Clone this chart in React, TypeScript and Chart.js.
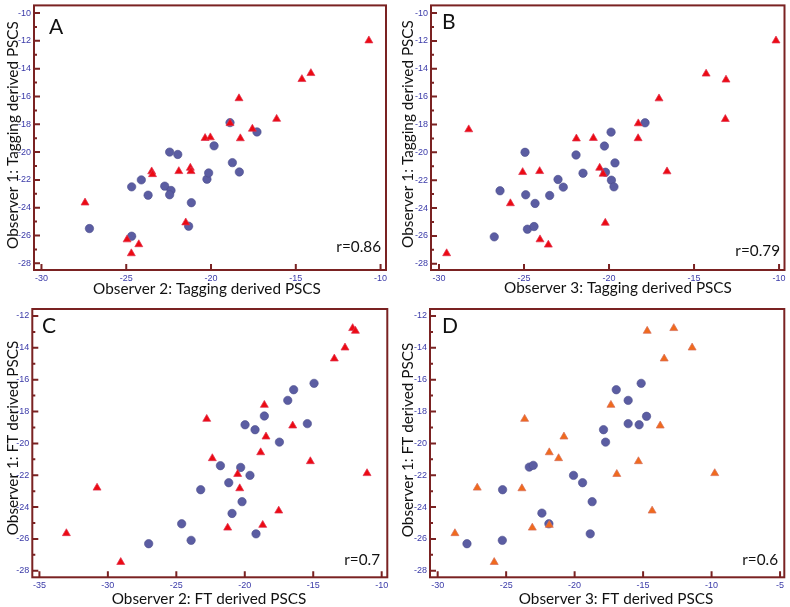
import React, { useEffect, useRef } from 'react';
import { Chart, registerables } from 'chart.js';

Chart.register(...registerables);

// ---------- Data ----------
// Panel A: Observer 2 vs Observer 1 (tagging)
const aCircleX = [-27.17, -24.68, -24.68, -24.11, -23.71, -22.73, -22.44, -22.36, -22.44, -21.96, -21.16, -21.32, -20.24, -20.14, -19.82, -18.88, -18.74, -18.33, -17.29];
const aCircleY = [-25.5, -26.05, -22.5, -22.0, -23.1, -22.45, -20.0, -22.76, -23.07, -20.17, -23.64, -25.33, -21.95, -21.5, -19.55, -17.88, -20.76, -21.43, -18.55];
const aTriX = [-27.43, -24.95, -24.7, -24.26, -23.5, -23.45, -21.9, -21.22, -21.18, -21.49, -20.35, -20.04, -18.88, -18.35, -18.27, -17.56, -16.13, -14.64, -14.11, -10.69];
const aTriY = [-23.64, -26.29, -27.29, -26.64, -21.4, -21.6, -21.38, -21.14, -21.38, -25.07, -19.0, -18.95, -17.93, -16.14, -19.02, -18.33, -17.62, -14.76, -14.33, -11.98];

// Panel B: Observer 3 vs Observer 1 (tagging)
const bCircleX = [-26.75, -26.41, -24.94, -24.9, -24.8, -24.35, -24.41, -23.49, -23.0, -22.69, -21.94, -21.53, -20.27, -20.21, -19.88, -19.86, -19.71, -19.65, -17.88];
const bCircleY = [-26.07, -22.76, -20.0, -23.05, -25.52, -23.67, -25.33, -23.1, -21.95, -22.5, -20.19, -21.5, -19.55, -21.43, -18.55, -22.0, -22.48, -20.76, -17.88];
const bTriX = [-29.55, -28.25, -25.8, -25.08, -24.08, -24.06, -23.57, -21.92, -20.92, -20.55, -20.35, -20.22, -18.28, -18.29, -17.06, -16.59, -14.29, -13.12, -13.16, -10.18];
const bTriY = [-27.26, -18.36, -23.67, -21.43, -21.36, -26.26, -26.64, -19.02, -18.98, -21.12, -21.55, -25.07, -17.93, -19.0, -16.14, -21.38, -14.36, -14.79, -17.62, -11.98];

// Panel C: Observer 2 vs Observer 1 (FT)
const cCircleX = [-27.02, -24.61, -23.92, -23.22, -21.78, -21.17, -20.93, -20.3, -20.2, -19.98, -19.62, -19.25, -19.18, -18.57, -17.47, -16.86, -16.43, -15.43, -14.94];
const cCircleY = [-26.3, -25.05, -26.09, -22.91, -21.4, -22.47, -24.4, -21.51, -23.66, -18.83, -22.01, -19.14, -25.68, -18.28, -19.92, -17.3, -16.63, -18.76, -16.23];
const cTriX = [-33.03, -30.79, -29.06, -22.78, -22.37, -21.25, -20.52, -20.37, -18.84, -18.69, -18.57, -18.45, -17.52, -16.5, -15.21, -13.46, -12.68, -12.12, -11.92, -11.07];
const cTriY = [-25.65, -22.79, -27.46, -18.47, -20.94, -25.3, -21.93, -22.83, -20.57, -25.13, -17.59, -19.58, -24.23, -18.89, -21.13, -14.68, -13.99, -12.77, -12.94, -21.88];

// Panel D: Observer 3 vs Observer 1 (FT)
const dCircleX = [-27.86, -25.26, -25.28, -23.31, -23.02, -22.39, -21.88, -20.08, -19.42, -18.72, -18.86, -17.89, -17.74, -16.96, -16.09, -16.09, -15.29, -15.14, -14.75];
const dCircleY = [-26.3, -22.91, -26.09, -21.49, -21.38, -24.38, -25.05, -22.01, -22.47, -23.66, -25.68, -19.14, -19.92, -16.63, -17.3, -18.76, -18.83, -16.23, -18.3];
const dTriX = [-28.74, -27.11, -25.87, -23.65, -23.85, -23.09, -21.85, -21.85, -21.17, -20.78, -17.35, -16.92, -15.34, -14.7, -14.34, -13.75, -13.46, -12.76, -11.42, -9.77];
const dTriY = [-25.65, -22.79, -27.46, -18.47, -22.83, -25.3, -20.57, -25.13, -20.94, -19.58, -17.59, -21.93, -21.13, -12.94, -24.23, -18.89, -14.68, -12.77, -13.99, -21.88];

// Tick values
const xTicksTagging = [-30, -25, -20, -15, -10];
const yTicksTagging = [-10, -12, -14, -16, -18, -20, -22, -24, -26, -28];
const yMinorTagging = [-11, -13, -15, -17, -19, -21, -23, -25, -27];
const xTicksC = [-35, -30, -25, -20, -15, -10];
const xTicksD = [-30, -25, -20, -15, -10, -5];
const yTicksFT = [-12, -14, -16, -18, -20, -22, -24, -26, -28];
const yMinorFT = [-13, -15, -17, -19, -21, -23, -25, -27];

// Labels
const panelLetters = ['A', 'B', 'C', 'D'];
const rLabels = ['r=0.86', 'r=0.79', 'r=0.7', 'r=0.6'];
const xTitles = ['Observer 2: Tagging derived PSCS', 'Observer 3: Tagging derived PSCS', 'Observer 2: FT derived PSCS', 'Observer 3: FT derived PSCS'];
const yTitles = ['Observer 1: Tagging derived PSCS', 'Observer 1: Tagging derived PSCS', 'Observer 1: FT derived PSCS', 'Observer 1: FT derived PSCS'];

// ---------- Styles ----------
const FRAME = '#7a2222';
const TICK_LABEL = '#3a3aa8';
const CIRCLE = '#5b5da2';
const CIRCLE_EDGE = '#4b4d8c';
const RED = '#ec0a12';
const ORANGE = '#f06a1c';
const TEXT_FONT = 'Lato, "Open Sans", sans-serif';

type Panel = {
  left: number; top: number; w: number; h: number;
  ca: { l: number; t: number; r: number; b: number };
  xMin: number; xMax: number; yMin: number; yMax: number;
  xTicks: number[]; yTicks: number[]; yMinor: number[];
  cx: number[]; cy: number[]; tx: number[]; ty: number[];
  triColor: string; triEdge: string;
  letterPos: [number, number]; rPos: [number, number];
  xTitlePos: [number, number]; yTitlePos: [number, number];
  idx: number;
};

const panels: Panel[] = [
  {
    idx: 0, left: 0, top: 0, w: 395, h: 300,
    ca: { l: 34, t: 3.3, r: 386, b: 270 },
    xMin: -30.44, xMax: -9.68, yMin: -28.48, yMax: -9.45,
    xTicks: xTicksTagging, yTicks: yTicksTagging, yMinor: yMinorTagging,
    cx: aCircleX, cy: aCircleY, tx: aTriX, ty: aTriY, triColor: RED, triEdge: 'rgba(225,50,80,0.9)',
    letterPos: [49, 34], rPos: [381, 252], xTitlePos: [207, 294], yTitlePos: [13, 135],
  },
  {
    idx: 1, left: 395, top: 0, w: 395, h: 300,
    ca: { l: 36, t: 3.3, r: 389.5, b: 270 },
    xMin: -30.47, xMax: -9.68, yMin: -28.45, yMax: -9.45,
    xTicks: xTicksTagging, yTicks: yTicksTagging, yMinor: yMinorTagging,
    cx: bCircleX, cy: bCircleY, tx: bTriX, ty: bTriY, triColor: RED, triEdge: 'rgba(225,50,80,0.9)',
    letterPos: [47, 29], rPos: [385, 256], xTitlePos: [223, 293], yTitlePos: [13, 134],
  },
  {
    idx: 2, left: 0, top: 300, w: 395, h: 307,
    ca: { l: 32.3, t: 9, r: 387.3, b: 277.3 },
    xMin: -35.52, xMax: -9.59, yMin: -28.41, yMax: -11.56,
    xTicks: xTicksC, yTicks: yTicksFT, yMinor: yMinorFT,
    cx: cCircleX, cy: cCircleY, tx: cTriX, ty: cTriY, triColor: RED, triEdge: 'rgba(225,50,80,0.9)',
    letterPos: [42, 33], rPos: [380, 265], xTitlePos: [209, 304], yTitlePos: [13, 138],
  },
  {
    idx: 3, left: 395, top: 300, w: 395, h: 307,
    ca: { l: 35, t: 9, r: 389.3, b: 277.3 },
    xMin: -30.56, xMax: -4.69, yMin: -28.41, yMax: -11.56,
    xTicks: xTicksD, yTicks: yTicksFT, yMinor: yMinorFT,
    cx: dCircleX, cy: dCircleY, tx: dTriX, ty: dTriY, triColor: ORANGE, triEdge: 'rgba(215,110,90,0.9)',
    letterPos: [47, 33], rPos: [383, 265], xTitlePos: [221, 304], yTitlePos: [13, 140],
  },
];

function makeDecor(p: Panel) {
  return {
    id: 'decor' + p.idx,
    afterDraw(chart: any) {
      const { ctx, chartArea: ca, scales } = chart;
      ctx.save();
      ctx.strokeStyle = FRAME;
      ctx.lineWidth = 2;
      ctx.beginPath();
      p.yTicks.forEach((v) => {
        const y = scales.y.getPixelForValue(v);
        ctx.moveTo(ca.left, y); ctx.lineTo(ca.left + 6, y);
      });
      p.yMinor.forEach((v) => {
        const y = scales.y.getPixelForValue(v);
        ctx.moveTo(ca.left, y); ctx.lineTo(ca.left + 3, y);
      });
      p.xTicks.forEach((v) => {
        const x = scales.x.getPixelForValue(v);
        ctx.moveTo(x, ca.bottom); ctx.lineTo(x, ca.bottom - 6);
      });
      ctx.stroke();
      ctx.strokeRect(ca.left, ca.top, ca.right - ca.left, ca.bottom - ca.top);

      ctx.fillStyle = '#111';
      ctx.textBaseline = 'alphabetic';
      ctx.textAlign = 'left';
      ctx.font = `21px ${TEXT_FONT}`;
      ctx.fillText(panelLetters[p.idx], p.letterPos[0], p.letterPos[1]);

      ctx.font = `15.3px ${TEXT_FONT}`;
      ctx.textAlign = 'right';
      ctx.fillText(rLabels[p.idx], p.rPos[0], p.rPos[1]);

      ctx.textAlign = 'center';
      ctx.fillText(xTitles[p.idx], p.xTitlePos[0], p.xTitlePos[1]);

      ctx.translate(p.yTitlePos[0], p.yTitlePos[1]);
      ctx.rotate(-Math.PI / 2);
      ctx.textBaseline = 'middle';
      ctx.fillText(yTitles[p.idx], 0, 0);
      ctx.restore();
    },
  };
}

function PanelChart({ p }: { p: Panel }) {
  const ref = useRef<HTMLCanvasElement>(null);
  useEffect(() => {
    if (!ref.current) return;
    const zeroPad = (s: any) => {
      s.paddingLeft = 0; s.paddingRight = 0; s.paddingTop = 0; s.paddingBottom = 0;
    };
    const chart = new Chart(ref.current, {
      type: 'scatter',
      data: {
        datasets: [
          {
            data: p.tx.map((x, i) => ({ x, y: p.ty[i] })),
            pointStyle: 'triangle',
            pointRadius: 4.6,
            backgroundColor: p.triColor,
            borderColor: p.triEdge,
            borderWidth: 0.8,
            clip: false,
          } as any,
          {
            data: p.cx.map((x, i) => ({ x, y: p.cy[i] })),
            pointStyle: 'circle',
            pointRadius: 4.2,
            backgroundColor: CIRCLE,
            borderColor: CIRCLE_EDGE,
            borderWidth: 0.6,
            clip: false,
          } as any,
        ],
      },
      options: {
        animation: false,
        responsive: false,
        events: [],
        layout: { padding: { left: 0, top: p.ca.t, right: p.w - p.ca.r, bottom: 0 } },
        plugins: { legend: { display: false }, tooltip: { enabled: false } },
        scales: {
          x: {
            type: 'linear',
            min: p.xMin, max: p.xMax,
            grid: { display: false, drawTicks: false },
            border: { display: false },
            ticks: { color: TICK_LABEL, font: { family: '"Liberation Sans", Arial, sans-serif', size: 9 }, padding: 3, maxRotation: 0 },
            afterBuildTicks: (s: any) => { s.ticks = p.xTicks.map((v) => ({ value: v })); },
            afterFit: (s: any) => { s.height = p.h - p.ca.b; zeroPad(s); },
          },
          y: {
            type: 'linear',
            min: p.yMin, max: p.yMax,
            grid: { display: false, drawTicks: false },
            border: { display: false },
            ticks: { color: TICK_LABEL, font: { family: '"Liberation Sans", Arial, sans-serif', size: 9 }, padding: 3 },
            afterBuildTicks: (s: any) => { s.ticks = p.yTicks.map((v) => ({ value: v })); },
            afterFit: (s: any) => { s.width = p.ca.l; zeroPad(s); },
          },
        },
      } as any,
      plugins: [makeDecor(p)],
    });
    return () => chart.destroy();
  }, [p]);
  return (
    <canvas
      ref={ref}
      width={p.w}
      height={p.h}
      style={{ position: 'absolute', left: p.left, top: p.top, width: p.w, height: p.h }}
    />
  );
}

export default function App() {
  return (
    <div style={{ position: 'absolute', left: 0, top: 0, width: 790, height: 607, background: '#fff', overflow: 'hidden' }}>
      {panels.map((p) => (
        <PanelChart key={p.idx} p={p} />
      ))}
    </div>
  );
}
